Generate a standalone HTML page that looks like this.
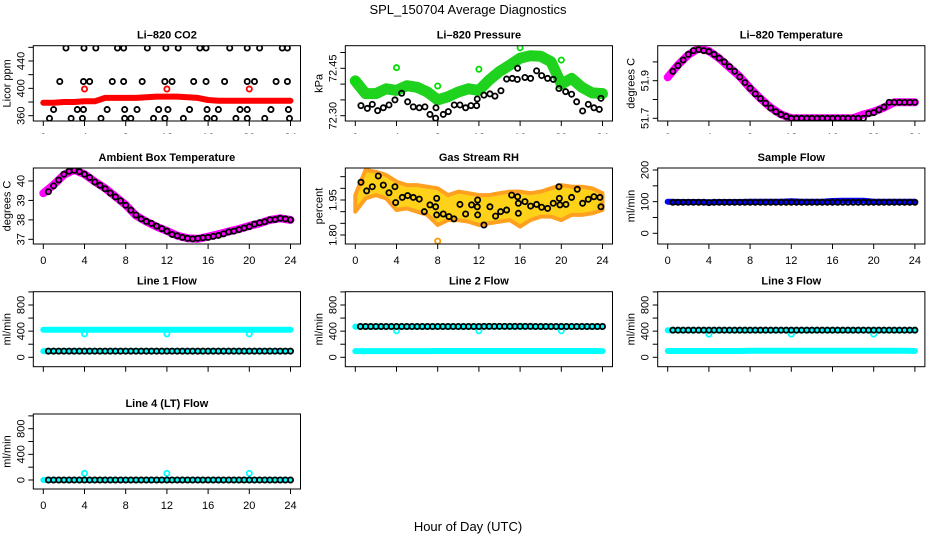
<!DOCTYPE html>
<html><head><meta charset="utf-8"><style>
html,body{margin:0;padding:0;background:#fff}
svg{display:block;font-family:"Liberation Sans",sans-serif}
</style></head><body>
<svg id="chart" width="936" height="540" viewBox="0 0 936 540">
<text x="468" y="14" font-size="13" text-anchor="middle">SPL_150704  Average Diagnostics</text>
<text x="468" y="531" font-size="13" text-anchor="middle">Hour of Day (UTC)</text>
</svg>
<script>
// ---------- data ----------
const hours = [0,1,2,3,4,5,6,7,8,9,10,11,12,13,14,15,16,17,18,19,20,21,22,23,24];
const halfHours = [0.5,1,1.5,2,2.5,3,3.5,4,4.5,5,5.5,6,6.5,7,7.5,8,8.5,9,9.5,10,10.5,11,11.5,12,12.5,13,13.5,14,14.5,15,15.5,16,16.5,17,17.5,18,18.5,19,19.5,20,20.5,21,21.5,22,22.5,23,23.5,24];
const xTicks = [0,4,8,12,16,20,24];
const outlierHours = [4,12,20];

// CO2
const co2Red = [379,379,380,380,381,381,386,386,386,386,387,388,388,388,387,386,383,382,382,382,382,382,382,382,382];
const co2RedOutliers = [399,399,399];
const co2BlackHours = [2.2,3.95,5.1,7.2,7.8,10.1,11.9,13.1,15.2,15.8,18.1,19.8,21.0,23.2,23.7,
 1.6,3.9,4.5,6.7,7.8,9.6,11.8,12.5,14.6,15.8,17.6,19.8,20.5,22.6,23.7,
 1.0,3.3,3.9,6.2,7.9,9.1,11.2,12.1,14.2,15.9,17.0,19.1,19.8,22.1,23.8,
 0.6,2.7,3.8,5.6,7.9,8.5,10.7,11.8,13.6,15.9,16.6,18.7,19.8,21.5,23.9];
const co2BlackVals = [459,459,459,459,459,459,459,459,459,459,459,459,459,459,459,
 410,410,410,410,410,410,410,410,410,410,410,410,410,410,410,
 369,369,369,369,369,369,369,369,369,369,369,369,369,369,369,
 356,356,356,356,356,356,356,356,356,356,356,356,356,356,356];

// Pressure
const presGreen = [72.41,72.37,72.37,72.385,72.38,72.395,72.39,72.375,72.35,72.36,72.375,72.385,72.38,72.413,72.44,72.46,72.482,72.49,72.488,72.471,72.40,72.418,72.39,72.372,72.37];
const presGreenOutHours = [0,4,8,12,16,20];
const presGreenOutVals = [72.41,72.452,72.394,72.447,72.515,72.476];
const presBlackHours = [0.55,1.17,1.65,2.17,2.72,3.27,3.85,4.5,5.08,5.63,6.21,6.76,7.25,7.83,7.8,8.54,9.03,9.61,10.16,10.71,11.23,11.78,11.84,12.49,13.07,13.56,14.14,14.69,15.24,15.73,15.76,16.47,17.02,17.6,18.09,18.67,19.22,19.77,20.42,21.0,21.49,22.07,22.62,23.17,23.69,23.85];
const presBlackVals = [72.332,72.323,72.336,72.316,72.325,72.334,72.350,72.371,72.344,72.328,72.325,72.328,72.304,72.325,72.292,72.304,72.313,72.334,72.334,72.325,72.332,72.332,72.353,72.365,72.369,72.362,72.379,72.416,72.418,72.415,72.450,72.421,72.418,72.442,72.427,72.418,72.415,72.386,72.376,72.368,72.344,72.315,72.336,72.325,72.32,72.355];

// Li-820 temperature
const tempBand = [51.918,51.984,52.037,52.072,52.058,52.019,51.97,51.922,51.86,51.806,51.757,51.721,51.70,51.70,51.70,51.70,51.70,51.70,51.70,51.72,51.735,51.757,51.785,51.785,51.785];
const tempBlack = [51.95,51.98,52.01,52.04,52.06,52.065,52.06,52.055,52.04,52.02,52.0,51.975,51.95,51.92,51.89,51.86,51.83,51.805,51.78,51.755,51.735,51.72,51.71,51.70,
 51.70,51.70,51.70,51.70,51.70,51.70,51.70,51.70,51.70,51.70,51.70,51.70,51.70,51.70,
 51.725,51.73,51.745,51.76,51.785,51.785,51.785,51.785,51.785,51.785];

// Ambient box temperature
const ambBand = [39.37,39.8,40.32,40.57,40.35,39.97,39.63,39.2,38.77,38.22,37.91,37.65,37.43,37.19,37.05,37.02,37.14,37.26,37.4,37.53,37.69,37.82,38.0,38.08,38.0];
const ambBlack = [39.45,39.75,40.05,40.35,40.5,40.55,40.48,40.35,40.18,39.95,39.78,39.6,39.38,39.18,38.98,38.75,38.5,38.25,38.05,37.92,37.82,37.68,37.55,37.42,37.25,37.18,37.1,37.05,37.02,37.05,37.08,37.1,37.15,37.2,37.28,37.38,37.42,37.5,37.58,37.65,37.78,37.85,37.9,38.0,38.02,38.08,38.05,38.0];

// Gas stream RH
const rhUpper = [1.971,2.079,2.071,2.057,2.029,2.014,2.014,2.007,2.0,1.971,1.986,1.979,1.971,1.971,1.979,1.986,1.986,1.979,1.986,2.0,2.014,2.007,2.007,2.0,1.979];
const rhLower = [1.9,1.957,1.971,1.957,1.907,1.914,1.9,1.886,1.843,1.864,1.864,1.857,1.843,1.85,1.857,1.864,1.836,1.864,1.879,1.879,1.864,1.886,1.886,1.893,1.907];
const rhOutHours = [8];
const rhOutVals = [1.774];
const rhBlackHours = [0.55,1.1,1.65,2.23,2.72,3.27,3.85,3.92,4.56,5.08,5.63,6.21,6.7,7.25,7.8,7.9,7.9,8.54,9.09,9.58,10.16,10.71,11.29,11.84,11.88,11.88,12.49,13.07,13.62,14.11,14.69,15.18,15.76,15.83,15.83,16.47,17.02,17.6,18.09,18.67,19.22,19.77,19.81,19.87,20.45,21.0,21.55,22.07,22.62,23.17,23.75,23.85];
const rhBlackVals = [2.026,1.989,2.007,2.053,2.014,1.981,2.007,1.939,1.961,1.969,1.961,1.954,1.9,1.929,1.921,1.957,1.886,1.89,1.879,1.869,1.931,1.89,1.929,1.921,1.95,1.886,1.843,1.921,1.881,1.9,1.907,1.971,1.964,1.936,1.893,1.943,1.924,1.931,1.919,1.914,1.936,2.007,1.957,1.929,1.931,1.961,1.996,1.936,1.953,1.964,1.961,1.921];

// Sample flow
const sampleBlue = [100,99,99,99,98,99,99,99,100,100,100,100,101,100,100,100,102,103,103,103,100,100,100,100,100];
const sampleBlack = [98,98,98,98,98,98,98,97,98,98,98,98,98,98,98,98,98,98,98,98,98,98,98,98,98,98,98,98,98,98,98,98,98,98,98,98,98,98,98,98,98,98,98,98,98,98,98,98];

// Line flows
const line1CyanHigh = [420,420,420,420,420,420,420,420,420,420,420,420,420,420,420,420,420,420,420,420,420,420,420,420,420];
const line1CyanLow = [95,95,95,95,95,95,95,95,95,95,95,95,95,95,95,95,95,95,95,95,95,95,95,95,95];
const line1Outliers = [358,358,358];
const line1Black = [95,95,95,95,95,95,95,95,95,95,95,95,95,95,95,95,95,95,95,95,95,95,95,95,95,95,95,95,95,95,95,95,95,95,95,95,95,95,95,95,95,95,95,95,95,95,95,95];

const line2CyanHigh = [470,470,470,470,470,470,470,470,470,470,470,470,470,470,470,470,470,470,470,470,470,470,470,470,470];
const line2CyanLow = [95,95,95,95,95,95,95,95,97,97,97,97,97,97,97,97,97,97,97,97,97,97,97,97,95];
const line2Outliers = [405,405,405];
const line2Black = [471,471,471,471,471,471,471,471,471,471,471,471,471,471,471,471,471,471,471,471,471,471,471,471,473,473,473,473,473,473,473,473,473,473,471,471,471,471,471,471,471,471,471,471,471,471,471,471];

const line3CyanHigh = [415,415,415,415,415,415,415,415,415,415,415,415,415,415,415,415,415,415,415,415,415,415,415,415,415];
const line3CyanLow = [97,97,97,97,97,97,97,97,99,99,99,99,99,99,99,99,99,99,99,99,99,99,99,99,97];
const line3Outliers = [354,354,354];
const line3Black = [415,415,415,415,415,415,415,415,415,415,415,415,415,415,415,415,415,415,415,415,415,415,415,415,415,415,415,415,415,415,415,415,415,415,415,415,415,415,415,415,415,415,415,415,415,415,415,415];

const line4Cyan = [0,0,0,0,0,0,0,0,0,0,0,0,0,0,0,0,0,0,0,0,0,0,0,0,0];
const line4Outliers = [104,104,104];
const line4Black = [0,0,0,0,0,0,0,0,0,0,0,0,0,0,0,0,0,0,0,0,0,0,0,0,0,0,0,0,0,0,0,0,0,0,0,0,0,0,0,0,0,0,0,0,0,0,0,0];

// ---------- drawing ----------
const svg = document.getElementById('chart');
const NS = 'http://www.w3.org/2000/svg';
function mk(tag, attrs, parent){
  const e = document.createElementNS(NS, tag);
  for (const k in attrs) e.setAttribute(k, attrs[k]);
  (parent||svg).appendChild(e);
  return e;
}
const colX0 = [43.3, 355.3, 667.7];
const PXH = 10.3;
const rowTop = [45.7, 168, 291.7, 414];
const rowBot = [121, 244, 366.7, 489];

function makePanel(o){
  const g = mk('g', {});
  
  
  const x0 = colX0[o.col];
  const xs = h => x0 + h * PXH;
  const left = xs(-0.97), right = xs(24.97);
  const top = rowTop[o.row], bot = rowBot[o.row];
  const k = (o.ref[3] - o.ref[1]) / (o.ref[2] - o.ref[0]);
  const ys = v => o.ref[1] + (v - o.ref[0]) * k;
  const cid = 'clip-' + o.name;
  const cp = mk('clipPath', {id: cid}, g);
  mk('rect', {x: left, y: top, width: right-left, height: bot-top}, cp);
  const data = mk('g', {'clip-path': 'url(#' + cid + ')'}, g);
  
  
  const t = mk('text', {x: (left+right)/2, y: top - 7, 'font-size': 11, 'font-weight': 'bold', 'text-anchor': 'middle'}, g);
  t.textContent = o.title;
  
  
  const yt = mk('text', {x: 0, y: 0, 'font-size': 11, 'text-anchor': 'middle', transform: `translate(${left-23},${(top+bot)/2}) rotate(-90)`}, g);
  yt.textContent = o.ylab;
  
  
  const box = mk('rect', {x: left, y: top, width: right-left, height: bot-top, fill: 'none', stroke: '#000', 'stroke-width': 1}, g);
  
  
  const xg = mk('g', {}, g);
  
  
  if (o.clipLabels){
    const xc = 'xclip-' + o.name;
    const c2 = mk('clipPath', {id: xc}, g);
    mk('rect', {x: left-20, y: bot, width: right-left+40, height: o.clipLabels - bot}, c2);
    xg.setAttribute('clip-path', 'url(#' + xc + ')');
  }
  for (const h of xTicks){
    mk('line', {x1: xs(h), x2: xs(h), y1: bot, y2: bot+5, stroke: '#000'}, xg);
    const tl = mk('text', {x: xs(h), y: bot + 20, 'font-size': 11, 'text-anchor': 'middle'}, xg);
    tl.textContent = h;
    
    
  }
  const yg = mk('g', {}, g);
  
  
  for (const v of o.yticks){
    mk('line', {x1: left-5, x2: left, y1: ys(v), y2: ys(v), stroke: '#000'}, yg);
  }
  for (const v of o.ylabels){
    const tl = mk('text', {x: 0, y: 0, 'font-size': 11, 'text-anchor': 'middle', transform: `translate(${left-9},${ys(v)}) rotate(-90)`}, yg);
    tl.textContent = o.fmt ? o.fmt(v) : v;
    
    
  }
  return {g: data, xs, ys};
}
function band(p, xsArr, vals, color, width, name){
  const pts = xsArr.map((h,i) => p.xs(h).toFixed(1) + ',' + p.ys(vals[i]).toFixed(1)).join(' ');
  const e = mk('polyline', {points: pts, fill: 'none', stroke: color, 'stroke-width': width, 'stroke-linejoin': 'round', 'stroke-linecap': 'round'}, p.g);
  
  
}
function circles(p, xsArr, vals, color, name, r, sw){
  for (let i = 0; i < xsArr.length; i++){
    const c = mk('circle', {cx: p.xs(xsArr[i]), cy: p.ys(vals[i]), r: r||2.6, fill: 'none', stroke: color, 'stroke-width': sw||1.8}, p.g);
    
    
  }
}

let p = makePanel({name:'co2-panel', title:'Li\u2013820 CO2', ylab:'Licor ppm', col:0, row:0, ref:[360,115.7,440,61], yticks:[360,380,400,420,440,460], ylabels:[360,400,440], clipLabels:134});
band(p, hours, co2Red, '#ff0000', 6, 'co2-red-series');
circles(p, outlierHours, co2RedOutliers, '#ff0000', 'co2-red-outlier');
circles(p, co2BlackHours, co2BlackVals, '#000', 'co2-black-point');

p = makePanel({name:'pressure-panel', title:'Li\u2013820 Pressure', ylab:'kPa', col:1, row:0, ref:[72.30,115.7,72.45,68.3], yticks:[72.30,72.35,72.40,72.45,72.50], ylabels:[72.30,72.45], fmt:v=>v.toFixed(2), clipLabels:134});
band(p, hours, presGreen, '#1ed21e', 11, 'pressure-green-series');
circles(p, presGreenOutHours, presGreenOutVals, '#00e000', 'pressure-green-outlier');
circles(p, presBlackHours, presBlackVals, '#000', 'pressure-black-point');

p = makePanel({name:'li820-temperature-panel', title:'Li\u2013820 Temperature', ylab:'degrees C', col:2, row:0, ref:[51.7,118.3,51.9,80.7], yticks:[51.7,51.8,51.9,52.0], ylabels:[51.7,51.9], fmt:v=>v.toFixed(1), clipLabels:134});
band(p, hours, tempBand, '#ff00ff', 8, 'temperature-magenta-series');
circles(p, halfHours, tempBlack, '#000', 'temperature-black-point');

p = makePanel({name:'ambient-temperature-panel', title:'Ambient Box Temperature', ylab:'degrees C', col:0, row:1, ref:[37,239.3,40,181], yticks:[37,38,39,40], ylabels:[37,38,39,40]});
band(p, hours, ambBand, '#ff00ff', 8, 'ambient-magenta-series');
circles(p, halfHours, ambBlack, '#000', 'ambient-black-point');

p = makePanel({name:'rh-panel', title:'Gas Stream RH', ylab:'percent', col:1, row:1, ref:[1.80,235,1.95,200], yticks:[1.80,1.85,1.90,1.95,2.00,2.05], ylabels:[1.80,1.95], fmt:v=>v.toFixed(2)});
{
  const up = hours.map((h,i) => p.xs(h).toFixed(1) + ',' + p.ys(rhUpper[i]).toFixed(1));
  const lo = hours.map((h,i) => p.xs(h).toFixed(1) + ',' + p.ys(rhLower[i]).toFixed(1)).reverse();
  const e = mk('polygon', {points: up.concat(lo).join(' '), fill: '#ffd21a', stroke: '#ffa020', 'stroke-width': 4, 'stroke-linejoin': 'round'}, p.g);
  
  
}
circles(p, rhOutHours, rhOutVals, '#ff9a00', 'rh-orange-outlier');
circles(p, rhBlackHours, rhBlackVals, '#000', 'rh-black-point');

p = makePanel({name:'sample-flow-panel', title:'Sample Flow', ylab:'ml/min', col:2, row:1, ref:[0,233.3,200,170], yticks:[0,50,100,150,200], ylabels:[0,100,200]});
band(p, hours, sampleBlue, '#0000ff', 6, 'sample-blue-series');
circles(p, halfHours, sampleBlack, '#000', 'sample-black-point');

const flowTicks = [0,200,400,600,800,1000];
const flowLabels = [0,400,800];
p = makePanel({name:'line1-flow-panel', title:'Line 1 Flow', ylab:'ml/min', col:0, row:2, ref:[0,357.3,800,305], yticks:flowTicks, ylabels:flowLabels, clipLabels:379});
band(p, hours, line1CyanHigh, '#00ffff', 6, 'line1-cyan-high');
band(p, hours, line1CyanLow, '#00ffff', 6, 'line1-cyan-low');
circles(p, outlierHours, line1Outliers, '#00ffff', 'line1-cyan-outlier');
circles(p, halfHours, line1Black, '#000', 'line1-black-point');

p = makePanel({name:'line2-flow-panel', title:'Line 2 Flow', ylab:'ml/min', col:1, row:2, ref:[0,357.3,800,305], yticks:flowTicks, ylabels:flowLabels, clipLabels:379});
band(p, hours, line2CyanHigh, '#00ffff', 6, 'line2-cyan-high');
band(p, hours, line2CyanLow, '#00ffff', 6, 'line2-cyan-low');
circles(p, outlierHours, line2Outliers, '#00ffff', 'line2-cyan-outlier');
circles(p, halfHours, line2Black, '#000', 'line2-black-point');

p = makePanel({name:'line3-flow-panel', title:'Line 3 Flow', ylab:'ml/min', col:2, row:2, ref:[0,357.3,800,305], yticks:flowTicks, ylabels:flowLabels, clipLabels:379});
band(p, hours, line3CyanHigh, '#00ffff', 6, 'line3-cyan-high');
band(p, hours, line3CyanLow, '#00ffff', 6, 'line3-cyan-low');
circles(p, outlierHours, line3Outliers, '#00ffff', 'line3-cyan-outlier');
circles(p, halfHours, line3Black, '#000', 'line3-black-point');

p = makePanel({name:'line4-flow-panel', title:'Line 4 (LT) Flow', ylab:'ml/min', col:0, row:3, ref:[0,480,800,428.7], yticks:flowTicks, ylabels:flowLabels});
band(p, hours, line4Cyan, '#00ffff', 6, 'line4-cyan-series');
circles(p, outlierHours, line4Outliers, '#00ffff', 'line4-cyan-outlier');
circles(p, halfHours, line4Black, '#000', 'line4-black-point');
</script>
</body></html>
